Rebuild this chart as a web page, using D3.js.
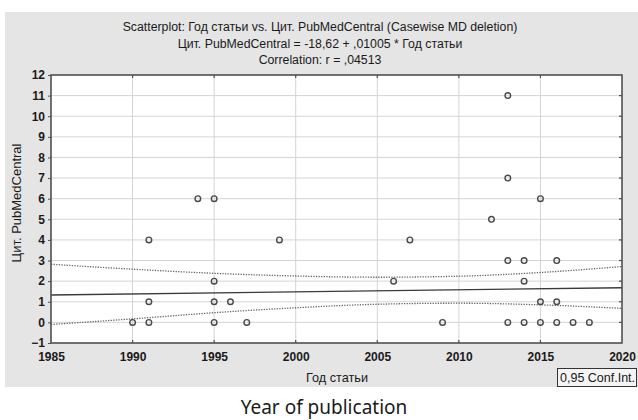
<!DOCTYPE html>
<html>
<head>
<meta charset="utf-8">
<script src="https://cdn.jsdelivr.net/npm/d3@7"></script>
<style>
  body { margin: 0; background: #fff; }
  text { font-family: "Liberation Sans", Arial, sans-serif; fill: #1a1a1a; }
</style>
</head>
<body>
<div id="container"></div>
<script>
// points (year, citations)
var years = [1990, 1991, 1991, 1991, 1994, 1995, 1995, 1995, 1995, 1996, 1997, 1999,
             2006, 2007, 2009, 2012, 2013, 2013, 2013, 2013, 2014, 2014, 2014,
             2015, 2015, 2015, 2016, 2016, 2016, 2017, 2018];
var cites = [0, 0, 1, 4, 6, 6, 2, 1, 0, 1, 0, 4,
             2, 4, 0, 5, 11, 7, 3, 0, 3, 2, 0,
             6, 1, 0, 3, 1, 0, 0, 0];

// regression from the title
var intercept = -18.62;
var slope = 0.01005;

// confidence band
var bandYears = [1985, 1990, 1995, 2000, 2005, 2010, 2015, 2020];
var bandUpper = [2.82, 2.58, 2.38, 2.25, 2.19, 2.24, 2.42, 2.71];
var bandLower = [-0.10, 0.17, 0.47, 0.71, 0.88, 0.93, 0.85, 0.68];

var xTicks = [1985, 1990, 1995, 2000, 2005, 2010, 2015, 2020];
var yTicks = [-1, 0, 1, 2, 3, 4, 5, 6, 7, 8, 9, 10, 11, 12];

var titleLines = ["Scatterplot: Год статьи vs. Цит. PubMedCentral (Casewise MD deletion)",
                  "Цит. PubMedCentral = -18,62 + ,01005 * Год статьи",
                  "Correlation: r = ,04513"];

var width = 638, height = 420;
var margin = {left: 51, top: 75, right: 16, bottom: 77};

var svg = d3.select("#container").append("svg")
    .attr("width", width)
    .attr("height", height);

// gray panel
svg.append("rect")
    .attr("x", 5).attr("y", 12)
    .attr("width", width - 5).attr("height", 375)
    .attr("fill", "#e5e5e5");

var x = d3.scaleLinear().domain([1985, 2020]).range([margin.left, width - margin.right]);
var y = d3.scaleLinear().domain([-1, 12]).range([height - margin.bottom, margin.top]);

var x0 = x.range()[0], x1 = x.range()[1], y0 = y.range()[0], y1 = y.range()[1];

svg.append("rect")
    .attr("x", x0).attr("y", y1)
    .attr("width", x1 - x0).attr("height", y0 - y1)
    .attr("fill", "#fff");

// grid
svg.append("g").selectAll("line")
    .data(yTicks.slice(1, -1))
    .enter().append("line")
    .attr("x1", x0).attr("x2", x1)
    .attr("y1", d => y(d)).attr("y2", d => y(d))
    .attr("stroke", "#d4d4d4");

svg.append("g").selectAll("line")
    .data(xTicks.slice(1, -1))
    .enter().append("line")
    .attr("x1", d => x(d)).attr("x2", d => x(d))
    .attr("y1", y1).attr("y2", y0)
    .attr("stroke", "#d4d4d4");

// confidence band (dotted)
var bandLine = d3.line().curve(d3.curveMonotoneX);
[bandUpper, bandLower].forEach(function (arr) {
    svg.append("path")
        .attr("d", bandLine(bandYears.map((yr, i) => [x(yr), y(arr[i])])))
        .attr("fill", "none")
        .attr("stroke", "#666")
        .attr("stroke-width", 1.3)
        .attr("stroke-dasharray", "1.3,1.3");
});

// regression line
svg.append("line")
    .attr("x1", x(1985)).attr("x2", x(2020))
    .attr("y1", y(intercept + slope * 1985))
    .attr("y2", y(intercept + slope * 2020))
    .attr("stroke", "#3a3a3a")
    .attr("stroke-width", 1.3);

// points
svg.append("g").selectAll("circle")
    .data(years)
    .enter().append("circle")
    .attr("cx", d => x(d))
    .attr("cy", (d, i) => y(cites[i]))
    .attr("r", 2.8)
    .attr("fill", "none")
    .attr("stroke", "#4a4a4a")
    .attr("stroke-width", 1.4);

// frame
svg.append("rect")
    .attr("x", x0).attr("y", y1)
    .attr("width", x1 - x0).attr("height", y0 - y1)
    .attr("fill", "none")
    .attr("stroke", "#505050")
    .attr("stroke-width", 1.6);

// inner ticks: top, bottom, right
var tk = svg.append("g").attr("stroke", "#505050").attr("stroke-width", 1.2);
xTicks.slice(1, -1).forEach(function (d) {
    tk.append("line").attr("x1", x(d)).attr("x2", x(d)).attr("y1", y1).attr("y2", y1 + 3);
    tk.append("line").attr("x1", x(d)).attr("x2", x(d)).attr("y1", y0).attr("y2", y0 - 3);
});
yTicks.slice(1, -1).forEach(function (d) {
    tk.append("line").attr("x1", x1).attr("x2", x1 - 3).attr("y1", y(d)).attr("y2", y(d));
});

// axes
var yAxis = svg.append("g")
    .attr("transform", "translate(" + x0 + ",0)")
    .call(d3.axisLeft(y).tickValues(yTicks).tickSize(3).tickPadding(3));
yAxis.select(".domain").remove();
yAxis.selectAll("line").attr("stroke", "#505050");
yAxis.selectAll("text").style("font-size", "12px").style("font-weight", "bold").attr("fill", "#2a2a2a")
    .style("font-family", "Liberation Sans, Arial, sans-serif");

var xAxis = svg.append("g")
    .attr("transform", "translate(0," + y0 + ")")
    .call(d3.axisBottom(x).tickValues(xTicks).tickFormat(d3.format("d")).tickSize(0).tickPadding(9));
xAxis.select(".domain").remove();
xAxis.selectAll("text").style("font-size", "12px").style("font-weight", "bold").attr("fill", "#2a2a2a")
    .style("font-family", "Liberation Sans, Arial, sans-serif");

// titles
svg.selectAll(".title")
    .data(titleLines)
    .enter().append("text")
    .attr("class", "title")
    .attr("x", 320)
    .attr("y", (d, i) => 31 + i * 16.5)
    .attr("text-anchor", "middle")
    .style("font-size", "12.3px")
    .text(d => d);

svg.append("text")
    .attr("x", 337).attr("y", 382)
    .attr("text-anchor", "middle")
    .style("font-size", "12.7px")
    .text("Год статьи");

svg.append("text")
    .attr("transform", "translate(21," + 203 + ") rotate(-90)")
    .attr("text-anchor", "middle")
    .style("font-size", "13px")
    .text("Цит. PubMedCentral");

// legend box
svg.append("rect")
    .attr("x", 557.5).attr("y", 368.5)
    .attr("width", 79).attr("height", 18)
    .attr("fill", "#f4f4f4")
    .attr("stroke", "#333");
svg.append("text")
    .attr("x", 560).attr("y", 382)
    .style("font-size", "12.5px")
    .text("0,95 Conf.Int.");

// caption under the panel
svg.append("text")
    .attr("x", 324).attr("y", 414)
    .attr("text-anchor", "middle")
    .style("font-family", "Noto Sans, sans-serif")
    .style("font-size", "19px")
    .text("Year of publication");
</script>
</body>
</html>
